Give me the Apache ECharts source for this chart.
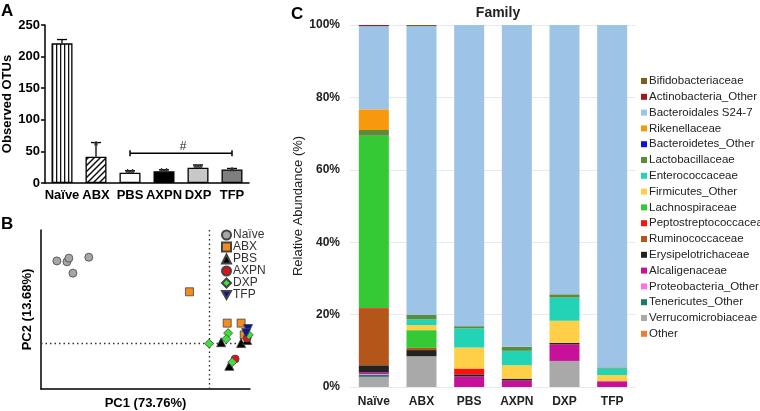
<!DOCTYPE html>
<html>
<head>
<meta charset="utf-8">
<script src="https://cdn.jsdelivr.net/npm/echarts@6/dist/echarts.min.js"></script>
<style>
  html, body { margin: 0; padding: 0; background: #fff; }
  #main { width: 760px; height: 411px; }
</style>
</head>
<body>
<div id="main"></div>
<script>
// ---- panel A: observed OTUs
var otuGroups = ['Naïve', 'ABX', 'PBS', 'AXPN', 'DXP', 'TFP'];
var otuMean = [221, 41.5, 16.3, 18.5, 24.2, 21.5];
var otuUpper = [227, 64, 19.5, 21, 28.5, 23];
var otuSig = ['', '*', '**', '**', '**', '*'];
var otuTicks = [0, 50, 100, 150, 200, 250];
var bracket = [2, 5, 47];   // from PBS to TFP at 47

// ---- panel B: PCoA (PC1, PC2)
var pcNaive = [[-0.634, 0.182], [-0.592, 0.180], [-0.584, 0.188], [-0.567, 0.155], [-0.501, 0.190]];
var pcABX = [[-0.082, 0.114], [0.075, 0.045], [0.133, 0.045], [0.146, 0.019]];
var pcPBS = [[0.050, 0.003], [0.133, 0.001], [0.084, -0.049], [0.158, 0.008]];
var pcAXPN = [[0.108, -0.034], [0.158, 0.012]];
var pcDXP = [[0.0, 0.0], [0.079, 0.023], [0.071, 0.010], [0.096, -0.041], [0.165, 0.019]];
var pcTFP = [[0.162, 0.032], [0.154, 0.023]];

// ---- panel C: family relative abundance (%)
var famGroups = ['Naïve', 'ABX', 'PBS', 'AXPN', 'DXP', 'TFP'];
var famNames = ['Bifidobacteriaceae', 'Actinobacteria_Other', 'Bacteroidales S24-7', 'Rikenellaceae',
  'Bacteroidetes_Other', 'Lactobacillaceae', 'Enterococcaceae', 'Firmicutes_Other', 'Lachnospiraceae',
  'Peptostreptococcaceae', 'Ruminococcaceae', 'Erysipelotrichaceae', 'Alcaligenaceae',
  'Proteobacteria_Other', 'Tenericutes_Other', 'Verrucomicrobiaceae', 'Other'];
var famColors = ['#7d5f1c', '#a3161f', '#9dc3e6', '#f7990c', '#0a12e6', '#5b8c3a', '#22d3b5', '#ffd047',
  '#35c935', '#ff1010', '#b4561a', '#222222', '#c8109a', '#ff6ef0', '#1a7a6a', '#a9a9a9', '#ed7d31'];
var famValues = {
  'Bifidobacteriaceae':    [0, 0.3, 0, 0, 0, 0],
  'Actinobacteria_Other':  [0.3, 0, 0, 0, 0, 0],
  'Bacteroidales S24-7':   [23.0, 79.8, 83.2, 88.9, 74.4, 94.6],
  'Rikenellaceae':         [5.7, 0, 0, 0, 0, 0],
  'Bacteroidetes_Other':   [0, 0, 0, 0, 0, 0],
  'Lactobacillaceae':      [1.6, 1.2, 0.6, 1.1, 0.9, 0.3],
  'Enterococcaceae':       [0, 1.6, 5.3, 4.0, 6.4, 1.8],
  'Firmicutes_Other':      [0, 1.4, 5.8, 3.7, 6.1, 1.7],
  'Lachnospiraceae':       [47.6, 4.9, 0, 0, 0, 0],
  'Peptostreptococcaceae': [0.2, 0, 1.6, 0, 0, 0],
  'Ruminococcaceae':       [15.6, 0.6, 0, 0, 0, 0],
  'Erysipelotrichaceae':   [2.0, 1.7, 0.6, 0.5, 0.4, 0],
  'Alcaligenaceae':        [0.4, 0, 2.9, 1.8, 4.6, 1.6],
  'Proteobacteria_Other':  [0.2, 0, 0, 0, 0, 0],
  'Tenericutes_Other':     [0.6, 0, 0, 0, 0, 0],
  'Verrucomicrobiaceae':   [2.8, 8.5, 0, 0, 7.2, 0],
  'Other':                 [0, 0, 0, 0, 0, 0]
};

var FONT = '"Liberation Sans", Arial, sans-serif';

// fill patterns for Naïve (vertical stripes) and ABX (hatch)
function stripes() {
  var c = document.createElement('canvas');
  c.width = 4; c.height = 4;
  var g = c.getContext('2d');
  g.fillStyle = '#fff'; g.fillRect(0, 0, 4, 4);
  g.fillStyle = '#111'; g.fillRect(0, 0, 1.3, 4);
  return c;
}
function hatch() {
  var c = document.createElement('canvas');
  c.width = 6; c.height = 6;
  var g = c.getContext('2d');
  g.fillStyle = '#fff'; g.fillRect(0, 0, 6, 6);
  g.strokeStyle = '#111'; g.lineWidth = 1.5;
  g.beginPath();
  g.moveTo(-1, 7); g.lineTo(7, -1);
  g.moveTo(-4, 4); g.lineTo(4, -4);
  g.moveTo(2, 10); g.lineTo(10, 2);
  g.stroke();
  return c;
}
var barFills = [
  {image: stripes(), repeat: 'repeat'},
  {image: hatch(), repeat: 'repeat'},
  '#ffffff', '#000000', '#c8c8c8', '#7f7f7f'
];

var myChart = echarts.init(document.getElementById('main'));

var famSeries = famNames.slice().reverse().map(function (name) {
  return {
    name: name,
    type: 'bar',
    stack: 'fam',
    xAxisIndex: 2,
    yAxisIndex: 2,
    barWidth: 30,
    data: famValues[name],
    itemStyle: {color: famColors[famNames.indexOf(name)]}
  };
});

var triDown = 'path://M0,0 L10,0 L5,9 Z';

function pcSeries(name, data, symbol, color, size) {
  return {
    name: name,
    type: 'scatter',
    xAxisIndex: 1,
    yAxisIndex: 1,
    symbol: symbol,
    symbolSize: size,
    data: data,
    itemStyle: {color: color, borderColor: '#444', borderWidth: 0.8, opacity: 1},
    z: 5
  };
}

var option = {
  animation: false,
  backgroundColor: '#fff',
  textStyle: {fontFamily: FONT},
  title: {
    text: 'Family',
    left: 493,
    top: 1,
    textAlign: 'center',
    textStyle: {fontSize: 14, fontWeight: 'bold', color: '#222', fontFamily: FONT}
  },
  graphic: [
    {type: 'text', left: 1, top: 3, style: {text: 'A', font: 'bold 17px ' + FONT, fill: '#000'}},
    {type: 'text', left: 1, top: 216, style: {text: 'B', font: 'bold 17px ' + FONT, fill: '#000'}},
    {type: 'text', left: 291, top: 6, style: {text: 'C', font: 'bold 17px ' + FONT, fill: '#000'}}
  ],
  legend: [{
    data: ['Naïve', 'ABX', 'PBS', 'AXPN', 'DXP', 'TFP'],
    orient: 'vertical',
    left: 216,
    top: 224,
    itemGap: 0,
    itemWidth: 9,
    itemHeight: 9,
    textStyle: {fontSize: 12, color: '#333', lineHeight: 10.5, fontFamily: FONT, padding: [0, 0, 0, -3]}
  }, {
    data: famNames,
    orient: 'vertical',
    left: 636,
    top: 70,
    itemGap: 3.8,
    itemWidth: 6,
    itemHeight: 6,
    icon: 'rect',
    textStyle: {fontSize: 11.5, color: '#222', lineHeight: 12, fontFamily: FONT, padding: [0, 0, 0, -3]}
  }],
  grid: [
    {left: 45, top: 25, width: 204, height: 158},
    {left: 41, top: 230, width: 209, height: 159},
    {left: 350, top: 25, width: 286, height: 362}
  ],
  xAxis: [{
    gridIndex: 0,
    type: 'category',
    data: otuGroups,
    axisLine: {lineStyle: {color: '#000', width: 1.5}},
    axisTick: {show: false},
    axisLabel: {color: '#000', fontSize: 13, fontWeight: 'bold', margin: 6, interval: 0}
  }, {
    gridIndex: 1,
    type: 'value',
    min: -0.7,
    max: 0.17,
    name: 'PC1 (73.76%)',
    nameLocation: 'middle',
    nameGap: 8,
    nameTextStyle: {fontSize: 13, fontWeight: 'bold', color: '#000', verticalAlign: 'top'},
    axisLine: {onZero: false, lineStyle: {color: '#000', width: 1.5}},
    axisTick: {show: false},
    axisLabel: {show: false},
    splitLine: {show: false}
  }, {
    gridIndex: 2,
    type: 'category',
    data: famGroups,
    axisLine: {show: false},
    axisTick: {show: false},
    axisLabel: {color: '#222', fontSize: 12, fontWeight: 'bold', margin: 9, interval: 0}
  }],
  yAxis: [{
    gridIndex: 0,
    type: 'value',
    min: 0,
    max: 250,
    interval: 50,
    name: 'Observed OTUs',
    nameLocation: 'middle',
    nameGap: 29,
    nameTextStyle: {fontSize: 13, fontWeight: 'bold', color: '#000'},
    axisLine: {show: true, lineStyle: {color: '#000', width: 1.5}},
    axisTick: {show: true, length: 4, lineStyle: {color: '#000', width: 1.5}},
    axisLabel: {color: '#000', fontSize: 13, fontWeight: 'bold', margin: 5,
      formatter: function (v) { return otuTicks.indexOf(v) >= 0 ? String(v) : ''; }},
    splitLine: {show: false}
  }, {
    gridIndex: 1,
    type: 'value',
    min: -0.1,
    max: 0.25,
    name: 'PC2 (13.68%)',
    nameLocation: 'middle',
    nameGap: 7,
    nameTextStyle: {fontSize: 13, fontWeight: 'bold', color: '#000'},
    axisLine: {show: true, onZero: false, lineStyle: {color: '#000', width: 1.5}},
    axisTick: {show: false},
    axisLabel: {show: false},
    splitLine: {show: false}
  }, {
    gridIndex: 2,
    type: 'value',
    min: 0,
    max: 100,
    interval: 20,
    name: 'Relative Abundance (%)',
    nameLocation: 'middle',
    nameGap: 40,
    nameTextStyle: {fontSize: 13, color: '#222'},
    axisLine: {show: false},
    axisTick: {show: false},
    axisLabel: {color: '#222', fontSize: 12, fontWeight: 'bold', margin: 10, formatter: '{value}%'},
    splitLine: {show: true, lineStyle: {color: '#e6e9ee', width: 1}}
  }],
  series: [{
    type: 'bar',
    xAxisIndex: 0,
    yAxisIndex: 0,
    barWidth: 21,
    data: otuMean.map(function (v, i) {
      return {value: v, itemStyle: {color: barFills[i]}};
    }),
    itemStyle: {borderColor: '#000', borderWidth: 1.3},
    z: 3
  }, {
    // error bars with significance marks
    type: 'custom',
    xAxisIndex: 0,
    yAxisIndex: 0,
    data: otuMean.map(function (v, i) { return [i, v, otuUpper[i]]; }),
    renderItem: function (params, api) {
      var i = api.value(0);
      var base = api.coord([i, api.value(1)]);
      var top = api.coord([i, api.value(2)]);
      var children = [{
        type: 'line',
        shape: {x1: base[0], y1: base[1], x2: top[0], y2: top[1]},
        style: {stroke: '#000', lineWidth: 1.3}
      }, {
        type: 'line',
        shape: {x1: top[0] - 5, y1: top[1], x2: top[0] + 5, y2: top[1]},
        style: {stroke: '#000', lineWidth: 1.3}
      }];
      if (otuSig[i]) {
        children.push({
          type: 'text',
          style: {text: otuSig[i], x: top[0], y: top[1] + 4, align: 'center', verticalAlign: 'middle',
            font: 'bold 13px ' + FONT, fill: '#333'}
        });
      }
      return {type: 'group', children: children};
    },
    z: 4
  }, {
    // bracket with #
    type: 'custom',
    xAxisIndex: 0,
    yAxisIndex: 0,
    data: [bracket],
    renderItem: function (params, api) {
      var a = api.coord([api.value(0), api.value(2)]);
      var b = api.coord([api.value(1), api.value(2)]);
      var st = {stroke: '#000', lineWidth: 1.5};
      return {type: 'group', children: [
        {type: 'line', shape: {x1: a[0], y1: a[1], x2: b[0], y2: b[1]}, style: st},
        {type: 'line', shape: {x1: a[0], y1: a[1] - 3, x2: a[0], y2: a[1] + 3}, style: st},
        {type: 'line', shape: {x1: b[0], y1: b[1] - 3, x2: b[0], y2: b[1] + 3}, style: st},
        {type: 'text', style: {text: '#', x: (a[0] + b[0]) / 2 + 2, y: a[1] - 1, align: 'center',
          verticalAlign: 'bottom', font: '12px ' + FONT, fill: '#222'}}
      ]};
    },
    z: 4
  },
  pcSeries('Naïve', pcNaive, 'circle', '#a6a6a6', 8),
  pcSeries('ABX', pcABX, 'rect', '#f28c1f', 8),
  pcSeries('PBS', pcPBS, 'triangle', '#000000', 9),
  pcSeries('AXPN', pcAXPN, 'circle', '#e3101b', 8),
  pcSeries('DXP', pcDXP, 'diamond', '#3de03d', 9),
  pcSeries('TFP', pcTFP, triDown, '#0a1a8c', 9),
  {
    // dotted zero lines of the PCoA
    type: 'scatter',
    xAxisIndex: 1,
    yAxisIndex: 1,
    data: [],
    silent: true,
    markLine: {
      symbol: ['none', 'none'],
      silent: true,
      label: {show: false},
      lineStyle: {color: '#333', type: [1.5, 3], width: 1.4},
      data: [{xAxis: 0}, {yAxis: 0}]
    },
    z: 2
  }
].concat(famSeries)
};

myChart.setOption(option);
</script>
</body>
</html>
